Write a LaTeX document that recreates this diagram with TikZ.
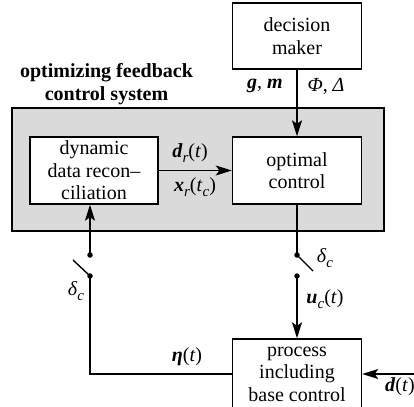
\documentclass[tikz,border=0pt]{standalone}
\usepackage{fontspec}
\setmainfont{Liberation Serif}
\usetikzlibrary{arrows.meta}
\newcommand{\bi}[1]{\textbf{\textit{#1}}}
\newcommand{\ii}[1]{\textit{#1}}
\newcommand{\sbs}[1]{\raisebox{-0.22em}{\fontsize{15}{15}\selectfont #1}}
\definecolor{sysgray}{RGB}{218,218,218}
\tikzset{
  txt/.style={font=\fontsize{20}{22.5}\selectfont},
  blk/.style={draw, line width=1.4pt, fill=white, align=center, txt, inner sep=0pt},
  dot/.style={circle, fill, inner sep=0pt, minimum size=5.5pt},
  conn/.style={line width=1.4pt},
  arr/.style={conn, -{Stealth[length=16pt,width=10pt,inset=3.5pt]}},
  lbl/.style={txt, inner sep=0pt}
}
\begin{document}
\begin{tikzpicture}[x=1pt,y=-1pt]
\useasboundingbox (0,0) rectangle (414,406);
\node[draw, line width=1.4pt, fill=sysgray, minimum width=372pt, minimum height=123pt, inner sep=0pt] (sys) at (198,169.5) {};
\node[lbl, align=center, font=\fontsize{20}{23}\selectfont\bfseries] (systitle) at (106.5,84) {optimizing feedback\\control system};
\node[blk, minimum width=129pt, minimum height=66pt] (dm) at (297,36) {decision\\maker};
\node[blk, minimum width=128pt, minimum height=67pt] (dyn) at (94,170.5) {dynamic\\data recon--\\ciliation};
\node[blk, minimum width=129pt, minimum height=67pt] (opt) at (297,170.5) {optimal\\control};
\node[blk, minimum width=129pt, minimum height=70pt] (proc) at (297,374) {process\\including\\base control};
% labels
\node[lbl] (gm) at (265,86) {\bi{g}, \bi{m}};
\node[lbl] (phid) at (326,86) {\ii{Φ}, \ii{Δ}};
\node[lbl] (dr) at (190,153) {\bi{d}\sbs{\ii{r}}(\ii{t})};
\node[lbl] (xr) at (195,187) {\bi{x}\sbs{\ii{r}}(\ii{t}\sbs{\ii{c}})};
\node[lbl] (uc) at (325,299) {\bi{u}\sbs{\ii{c}}(\ii{t})};
\node[lbl] (dcr) at (325,258) {\ii{δ}\sbs{\ii{c}}};
\node[lbl] (dcl) at (76,291) {\ii{δ}\sbs{\ii{c}}};
\node[lbl] (eta) at (187,357) {\bi{η}(\ii{t})};
\node[lbl, anchor=west] (dt) at (385,387) {\bi{d}(\ii{t})};
% switches
\node[dot] (lu) at (90,255) {};
\node[dot] (ld) at (90,276) {};
\coordinate (lb) at (73,260);
\node[dot] (ru) at (297,255) {};
\node[dot] (rd) at (297,276) {};
\coordinate (rb) at (313,271);
\coordinate (dsrc) at (416,374);
% connectors
\draw[arr] (dm.south) -- (opt.north);
\draw[arr] (dyn.east) -- (opt.west);
\draw[conn] (opt.south) -- (ru.center);
\draw[conn] (ru.center) -- (rb);
\draw[arr] (rd.center) -- (proc.north);
\draw[conn] (proc.west) -| (ld.center);
\draw[conn] (ld.center) -- (lb);
\draw[arr] (lu.center) -- (lu |- dyn.south);
\draw[arr] (dsrc) -- (proc.east);
\end{tikzpicture}
\end{document}
